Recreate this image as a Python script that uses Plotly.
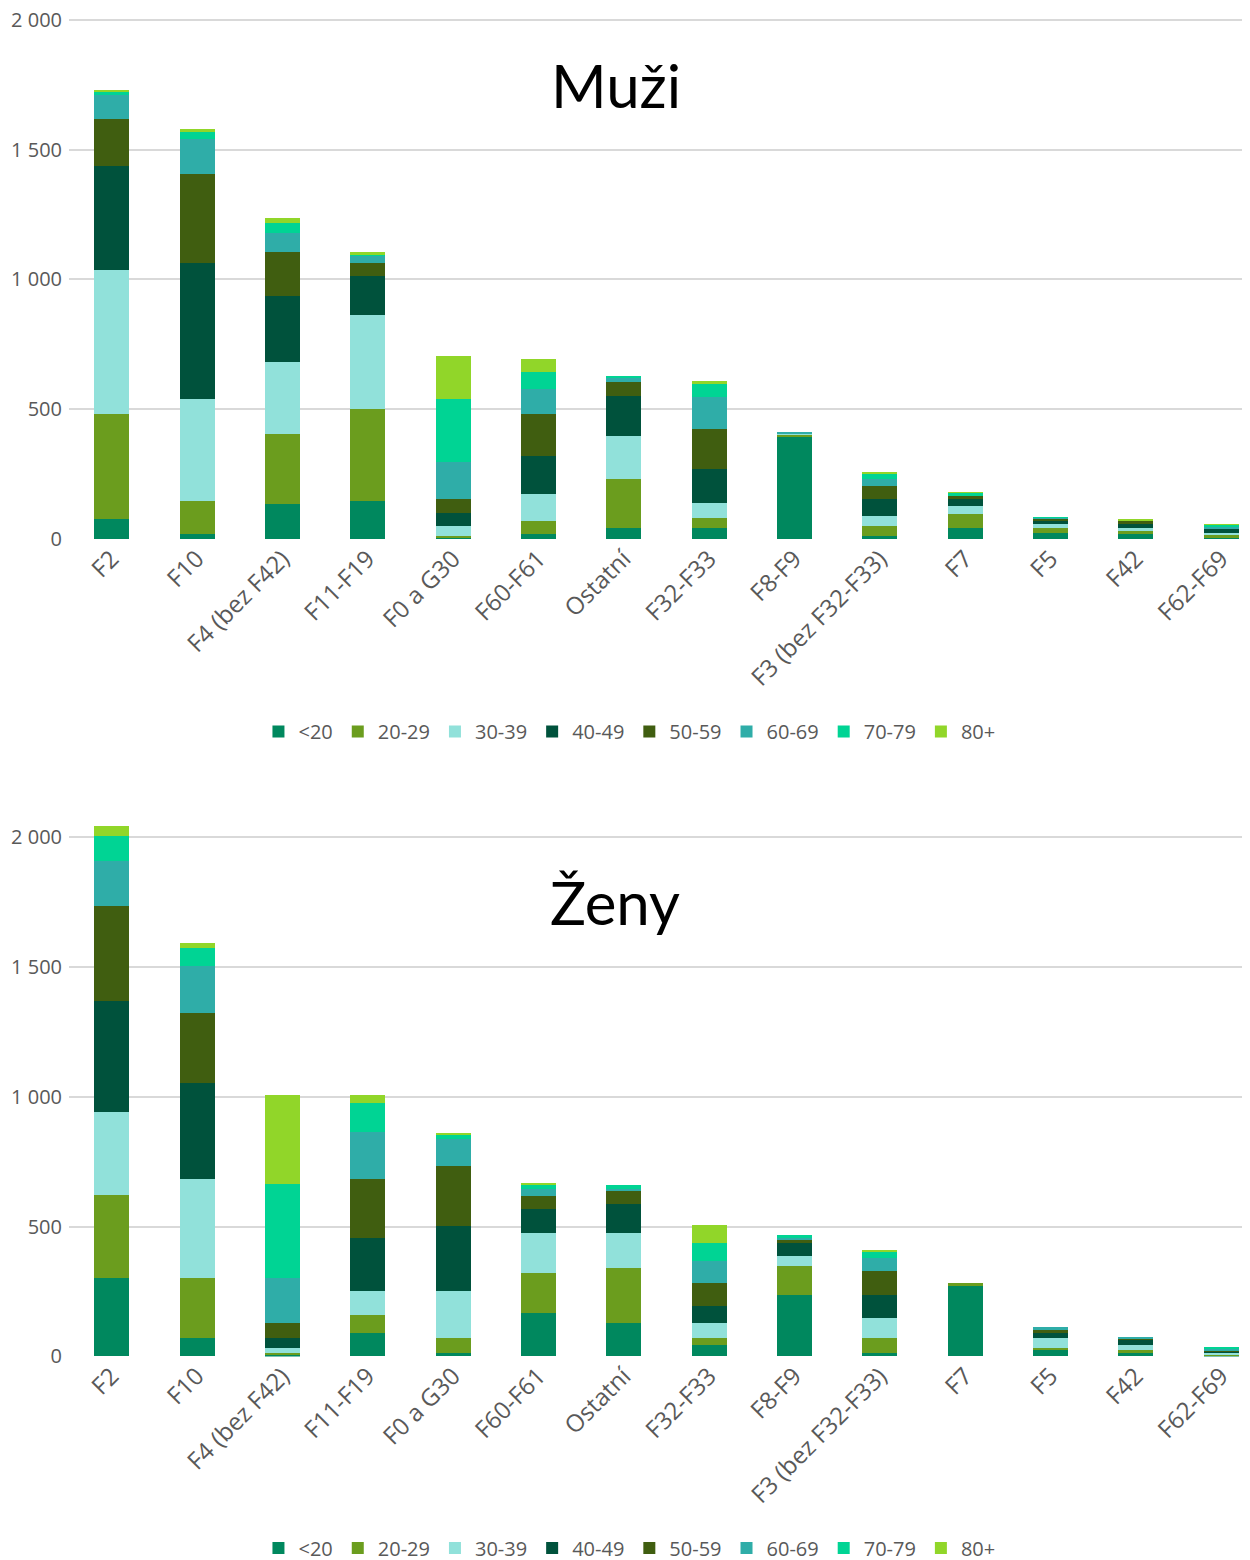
import plotly.graph_objects as go
from plotly.subplots import make_subplots

# diagnosis groups (x axis)
kategorie = ["F2", "F10", "F4 (bez F42)", "F11-F19", "F0 a G30", "F60-F61", "Ostatní",
             "F32-F33", "F8-F9", "F3 (bez F32-F33)", "F7", "F5", "F42", "F62-F69"]

vekove_skupiny = ["<20", "20-29", "30-39", "40-49", "50-59", "60-69", "70-79", "80+"]
barvy = ["#00885E", "#6B9D1E", "#91E1DA", "#00523C", "#405E10", "#2FADA8", "#00D494", "#91D629"]

# Muži
m_u20 = [77, 19, 135, 146, 5, 19, 42, 42, 396, 12, 42, 23, 19, 4]
m_20_29 = [404, 127, 269, 354, 7, 50, 189, 39, 7, 38, 54, 19, 12, 11]
m_30_39 = [554, 392, 277, 365, 38, 104, 165, 57, 1, 38, 31, 16, 11, 8]
m_40_49 = [403, 527, 257, 150, 50, 146, 154, 131, 1, 66, 27, 11, 16, 15]
m_50_59 = [181, 343, 166, 50, 54, 162, 54, 154, 1, 50, 11, 8, 11, 1]
m_60_69 = [90, 134, 77, 27, 142, 96, 19, 124, 3, 27, 1, 4, 2, 8]
m_70_79 = [14, 27, 38, 3, 242, 65, 1, 49, 0, 19, 12, 1, 1, 8]
m_80 = [4, 12, 19, 9, 166, 50, 0, 12, 0, 4, 1, 0, 4, 1]

# Ženy
z_u20 = [301, 70, 5, 89, 13, 167, 128, 44, 236, 13, 271, 24, 13, 3]
z_20_29 = [322, 231, 8, 69, 58, 154, 212, 27, 111, 58, 11, 8, 11, 2]
z_30_39 = [320, 381, 18, 93, 180, 153, 134, 57, 39, 76, 0, 39, 20, 8]
z_40_49 = [427, 373, 39, 204, 250, 93, 112, 66, 50, 89, 0, 19, 19, 8]
z_50_59 = [365, 269, 57, 227, 231, 50, 50, 88, 15, 92, 0, 11, 8, 3]
z_60_69 = [173, 182, 175, 184, 104, 30, 11, 86, 5, 50, 0, 12, 3, 4]
z_70_79 = [97, 68, 361, 111, 19, 16, 12, 68, 11, 27, 0, 0, 0, 8]
z_80 = [38, 20, 345, 31, 4, 4, 0, 69, 0, 4, 0, 0, 0, 0]

muzi = [m_u20, m_20_29, m_30_39, m_40_49, m_50_59, m_60_69, m_70_79, m_80]
zeny = [z_u20, z_20_29, z_30_39, z_40_49, z_50_59, z_60_69, z_70_79, z_80]

y_ticks = [0, 500, 1000, 1500, 2000]
y_ticktext = ["0", "500", "1 000", "1 500", "2 000"]

FONT = "'Open Sans', Lato, sans-serif"
GREY = "#595959"

fig = make_subplots(rows=2, cols=1)

for i, skup in enumerate(vekove_skupiny):
    fig.add_trace(go.Bar(x=kategorie, y=muzi[i], name=skup,
                         marker=dict(color=barvy[i], line=dict(width=0)),
                         legend="legend"), row=1, col=1)
    fig.add_trace(go.Bar(x=kategorie, y=zeny[i], name=skup,
                         marker=dict(color=barvy[i], line=dict(width=0)),
                         legend="legend2"), row=2, col=1)

# the page body adds an 8 px offset, positions below are compensated for it;
# the plot runs a bit past the right edge of the window, as in the original
fig.update_layout(
    width=1260, height=1560,
    margin=dict(l=61, r=4, t=0, b=0),
    barmode="stack",
    bargap=0.59,
    plot_bgcolor="white", paper_bgcolor="white",
    font=dict(family=FONT, color=GREY, size=20),
    legend=dict(orientation="h", x=0.469, xanchor="center", y=0.5353, yanchor="middle",
                font=dict(size=20, color=GREY), traceorder="normal"),
    legend2=dict(orientation="h", x=0.469, xanchor="center", y=0.0109, yanchor="middle",
                 font=dict(size=20, color=GREY), traceorder="normal"),
)

fig.update_yaxes(tickvals=y_ticks, ticktext=y_ticktext,
                 showgrid=True, gridcolor="#D9D9D9", gridwidth=2, zeroline=False,
                 showline=False, ticks="", tickfont=dict(size=20, color=GREY),
                 automargin=False, ticklabelstandoff=6, ticklabeloverflow="allow")
fig.update_xaxes(tickangle=-45, tickfont=dict(size=24, color=GREY), showline=False,
                 ticks="", showgrid=False, automargin=False)

fig.update_layout(
    yaxis=dict(domain=[0.65897, 0.99731], range=[0, 2030]),
    yaxis2=dict(domain=[0.13397, 0.47481], range=[0, 2045]),
)

fig.add_annotation(text="Muži", xref="paper", yref="paper", x=0.4577, y=1 - 77 / 1560,
                   yanchor="middle", showarrow=False,
                   font=dict(size=60, color="black", family="Lato, sans-serif"))
fig.add_annotation(text="Ženy", xref="paper", yref="paper", x=0.4569, y=1 - 896 / 1560,
                   yanchor="middle", showarrow=False,
                   font=dict(size=60, color="black", family="Lato, sans-serif"))

fig.write_html("out.html")
